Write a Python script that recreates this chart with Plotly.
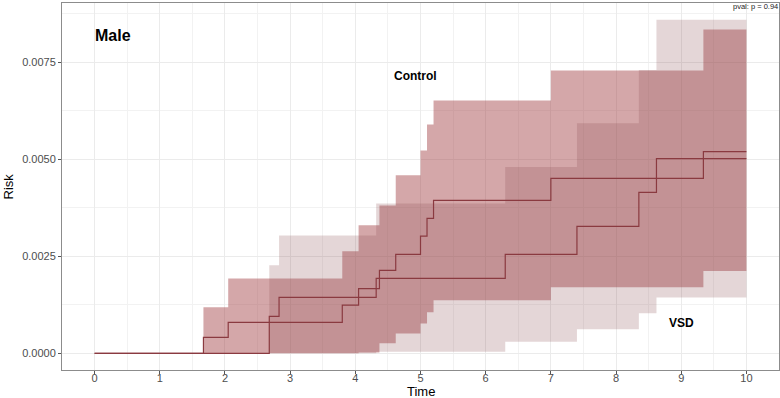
import plotly.graph_objects as go

# ---- data ----
ctrl_time  = [0, 1.67, 2.05, 3.80, 4.05, 4.37, 4.62, 5.00, 5.10, 5.20, 7.00, 9.34, 10]
ctrl_risk  = [0, 0.00041, 0.00080, 0.00124, 0.00167, 0.00214, 0.00255, 0.00302, 0.00348, 0.00394, 0.00451, 0.00520, 0.00520]
ctrl_upper = [0, 0.00119, 0.00193, 0.00263, 0.00330, 0.00381, 0.00459, 0.00523, 0.00590, 0.00652, 0.00729, 0.00835, 0.00835]
ctrl_lower = [0, 0, 0, 0, 0.00002, 0.00026, 0.00051, 0.00077, 0.00106, 0.00137, 0.00170, 0.00212, 0.00212]

vsd_time  = [0, 2.68, 2.83, 4.32, 6.30, 7.40, 8.35, 8.62, 10]
vsd_risk  = [0, 0.00095, 0.00144, 0.00193, 0.00255, 0.00327, 0.00415, 0.00502, 0.00502]
vsd_upper = [0, 0.00227, 0.00304, 0.00386, 0.00480, 0.00593, 0.00730, 0.00860, 0.00860]
vsd_lower = [0, 0, 0, 0.00004, 0.00030, 0.00062, 0.00103, 0.00144, 0.00144]

x_ticks = list(range(0, 11))
y_ticks = [0.0, 0.0025, 0.005, 0.0075]
y_tick_labels = ["0.0000", "0.0025", "0.0050", "0.0075"]

LINE = "#8a3a40"
CTRL_FILL = "rgba(160,60,65,0.45)"
VSD_FILL = "rgba(139,78,83,0.23)"

fig = go.Figure()

def band(t, lo, hi, fill):
    fig.add_trace(go.Scatter(x=t, y=lo, mode="lines", line=dict(width=0, shape="hv"),
                             hoverinfo="skip", showlegend=False))
    fig.add_trace(go.Scatter(x=t, y=hi, mode="lines", line=dict(width=0, shape="hv"),
                             fill="tonexty", fillcolor=fill, hoverinfo="skip", showlegend=False))

band(ctrl_time, ctrl_lower, ctrl_upper, CTRL_FILL)
band(vsd_time, vsd_lower, vsd_upper, VSD_FILL)

fig.add_trace(go.Scatter(x=ctrl_time, y=ctrl_risk, mode="lines", name="Control",
                         line=dict(color=LINE, width=1.2, shape="hv"), showlegend=False))
fig.add_trace(go.Scatter(x=vsd_time, y=vsd_risk, mode="lines", name="VSD",
                         line=dict(color=LINE, width=1.2, shape="hv"), showlegend=False))

annots = [
    dict(x=0.28, y=0.0082, text="<b>Male</b>", font=dict(size=16, color="black", family="Liberation Sans")),
    dict(x=4.92, y=0.00716, text="<b>Control</b>", font=dict(size=12, color="black", family="Liberation Sans")),
    dict(x=9.0, y=0.00077, text="<b>VSD</b>", font=dict(size=12, color="black", family="Liberation Sans")),
    dict(x=10.14, y=0.00893, text="pval: p = 0.94", font=dict(size=7.5, color="#222", family="Liberation Sans")),
]
for a in annots:
    fig.add_annotation(xref="x", yref="y", showarrow=False, **a)

# axis titles placed as annotations (paper coords)
fig.add_annotation(xref="paper", yref="paper", x=0.5, y=-0.058, text="Time", showarrow=False,
                   xanchor="center", yanchor="middle",
                   font=dict(family="Liberation Sans", size=13, color="black"))
fig.add_annotation(xref="paper", yref="paper", x=-0.0753, y=0.5, text="Risk", showarrow=False,
                   textangle=-90, xanchor="center", yanchor="middle",
                   font=dict(family="Liberation Sans", size=13, color="black"))

axis_common = dict(
    showline=True, mirror=True, linecolor="#8c8c8c", linewidth=1,
    ticks="outside", ticklen=3, tickcolor="#555", tickwidth=1,
    showgrid=True, gridcolor="#EBEBEB", gridwidth=1, zeroline=False, automargin=False,
    tickfont=dict(family="Liberation Sans", size=11, color="#4D4D4D"),
)

fig.update_xaxes(range=[-0.5, 10.5], tickvals=x_ticks, ticktext=[str(v) for v in x_ticks],
                 ticklabelstandoff=-5,
                 minor=dict(dtick=0.5, tick0=0, showgrid=True, gridcolor="#F2F2F2", gridwidth=0.7, ticks=""),
                 **axis_common)
fig.update_yaxes(range=[-0.00043, 0.00903], tickvals=y_ticks, ticktext=y_tick_labels,
                 minor=dict(dtick=0.00125, tick0=0, showgrid=True, gridcolor="#F2F2F2", gridwidth=0.7, ticks=""),
                 **axis_common)

fig.update_layout(
    width=780, height=398,
    margin=dict(l=62, r=1, t=3, b=28),
    paper_bgcolor="white", plot_bgcolor="white",
    hovermode=False, showlegend=False,
)

fig.write_html("out.html")
